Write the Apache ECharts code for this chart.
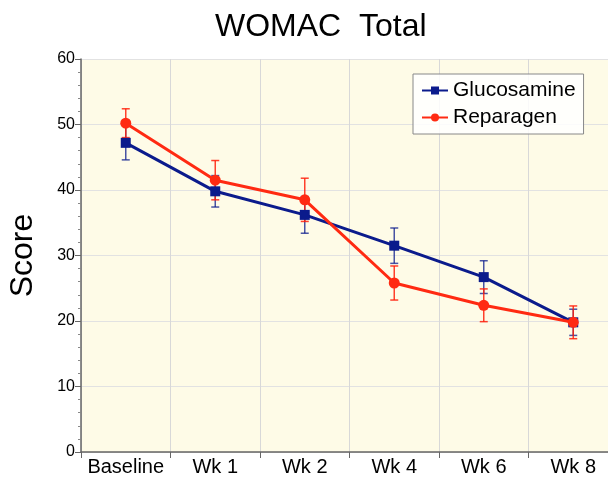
<!DOCTYPE html>
<html>
<head>
<meta charset="utf-8">
<script src="https://cdn.jsdelivr.net/npm/echarts@6/dist/echarts.min.js"></script>
<style>
  html, body { margin: 0; padding: 0; background: #fff; }
  #chart { width: 608px; height: 477px; }
</style>
</head>
<body>
<div id="chart"></div>
<script>
var weeks = ['Baseline', 'Wk 1', 'Wk 2', 'Wk 4', 'Wk 6', 'Wk 8'];
var glucosamine = [47.2, 39.8, 36.2, 31.5, 26.7, 19.8];
var glucosamineErr = [2.6, 2.4, 2.8, 2.7, 2.5, 2.0];
var reparagen = [50.2, 41.5, 38.5, 25.8, 22.4, 19.8];
var reparagenErr = [2.2, 3.0, 3.3, 2.6, 2.5, 2.5];

var navy = '#0b1b8c';
var red = '#ff2a12';

// 误差线数据: [类别索引, 下限, 上限]
function errData(vals, errs) {
    return vals.map(function (v, i) {
        return [i, v - errs[i], v + errs[i]];
    });
}

function errSeries(vals, errs, color) {
    return {
        type: 'custom',
        silent: true,
        z: 1,
        data: errData(vals, errs),
        renderItem: function (params, api) {
            var lo = api.coord([api.value(0), api.value(1)]);
            var hi = api.coord([api.value(0), api.value(2)]);
            var w = 4;
            var style = { stroke: color, lineWidth: 1.5 };
            return {
                type: 'group',
                children: [
                    { type: 'line', shape: { x1: lo[0], y1: lo[1], x2: hi[0], y2: hi[1] }, style: style },
                    { type: 'line', shape: { x1: lo[0] - w, y1: lo[1], x2: lo[0] + w, y2: lo[1] }, style: style },
                    { type: 'line', shape: { x1: hi[0] - w, y1: hi[1], x2: hi[0] + w, y2: hi[1] }, style: style }
                ]
            };
        }
    };
}

var chart = echarts.init(document.getElementById('chart'));

chart.setOption({
    animation: false,
    textStyle: { fontFamily: 'Liberation Sans, Arial, sans-serif' },
    title: {
        text: 'WOMAC  Total',
        left: 210,
        top: 6,
        textStyle: { fontSize: 32, fontWeight: 'normal', color: '#000' }
    },
    legend: {
        orient: 'vertical',
        left: 413,
        top: 74,
        padding: [6, 8, 6, 8],
        itemGap: 6,
        itemWidth: 26,
        itemHeight: 10,
        backgroundColor: 'rgba(255,255,255,0.85)',
        borderColor: '#888',
        borderWidth: 1,
        textStyle: { fontSize: 21, color: '#000' },
        data: ['Glucosamine', 'Reparagen']
    },
    grid: {
        left: 81,
        right: -10,
        top: 59,
        bottom: 25,
        outerBoundsMode: 'none',
        show: true,
        backgroundColor: '#fefbe7',
        borderWidth: 0
    },
    xAxis: {
        type: 'category',
        data: weeks,
        boundaryGap: true,
        axisLine: { lineStyle: { color: '#666', width: 1.5 } },
        axisTick: { show: true, length: 6, interval: 0, lineStyle: { color: '#666' } },
        axisLabel: { fontSize: 20, color: '#000', margin: 5, interval: 0 },
        splitLine: { show: true, interval: 0, lineStyle: { color: '#d8d8d8' } }
    },
    yAxis: {
        type: 'value',
        min: 0,
        max: 60,
        interval: 10,
        name: 'Score',
        nameLocation: 'middle',
        nameGap: 42,
        nameTextStyle: { fontSize: 32, color: '#000' },
        axisLine: { show: true, lineStyle: { color: '#666', width: 1.5 } },
        axisTick: { show: true, length: 6, lineStyle: { color: '#666' } },
        minorTick: { show: true, splitNumber: 5, length: 3, lineStyle: { color: '#888' } },
        axisLabel: { fontSize: 16, color: '#000', margin: 6 },
        splitLine: { show: true, lineStyle: { color: '#e2e2e2' } }
    },
    series: [
        errSeries(glucosamine, glucosamineErr, 'rgba(11,27,140,0.75)'),
        errSeries(reparagen, reparagenErr, 'rgba(255,30,10,0.85)'),
        {
            name: 'Glucosamine',
            type: 'line',
            data: glucosamine,
            symbol: 'rect',
            symbolSize: 10,
            z: 3,
            lineStyle: { color: navy, width: 3 },
            itemStyle: { color: navy }
        },
        {
            name: 'Reparagen',
            type: 'line',
            data: reparagen,
            symbol: 'circle',
            symbolSize: 11,
            z: 4,
            lineStyle: { color: red, width: 3 },
            itemStyle: { color: red }
        }
    ]
});
</script>
</body>
</html>
